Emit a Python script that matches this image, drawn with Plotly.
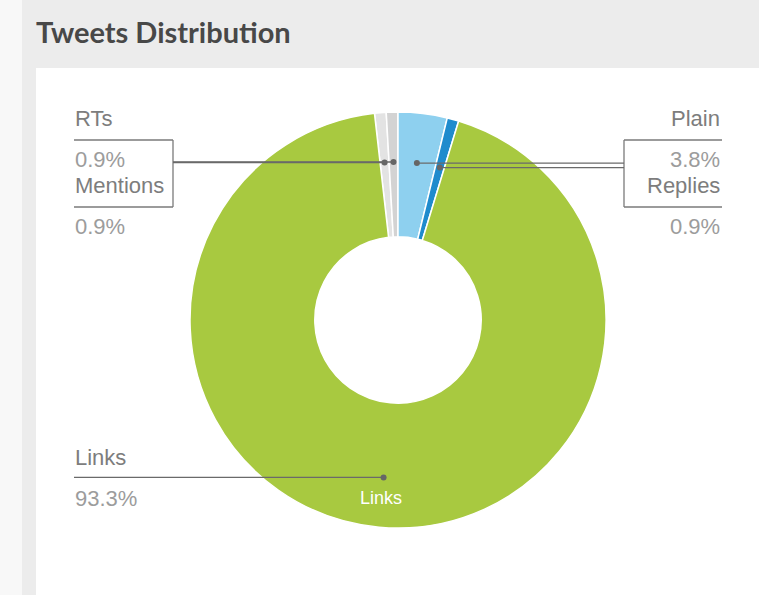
import math
import plotly.graph_objects as go

# ---- data ----
categories = ["RTs", "Mentions", "Plain", "Replies", "Links"]
values = [0.9, 0.9, 3.8, 0.9, 93.3]
pct_labels = ["0.9%", "0.9%", "3.8%", "0.9%", "93.3%"]
colors = ["#e3e3e3", "#d3d3d3", "#8ed0ef", "#1f8bcd", "#a8c940"]
title_text = "Tweets Distribution"

# ---- layout constants (pixels) ----
W, H = 759, 595
CX, CY, R = 398, 320, 208
HOLE = 0.40
DOT_R = 0.76 * R


def px(x):
    return x / W


def py(y):
    return 1 - y / H


total = sum(values)
rotation = -(values[0] + values[1]) / total * 360

fig = go.Figure(
    go.Pie(
        labels=categories,
        values=values,
        sort=False,
        direction="clockwise",
        rotation=rotation,
        hole=HOLE,
        marker=dict(colors=colors, line=dict(color="white", width=1.5)),
        textinfo="none",
        hoverinfo="label+percent",
        showlegend=False,
        domain=dict(x=[px(CX - R), px(CX + R)], y=[py(CY + R), py(CY - R)]),
    )
)

# slice mid angles -> dot positions
dots = []
cum = 0
for v in values:
    a = math.radians(rotation + (cum + v / 2) / total * 360)
    dots.append((CX + DOT_R * math.sin(a), CY - DOT_R * math.cos(a)))
    cum += v

shapes = [
    dict(type="rect", xref="paper", yref="paper", x0=px(22), x1=1, y0=0, y1=1,
         fillcolor="#ececec", line=dict(width=0), layer="below"),
    dict(type="rect", xref="paper", yref="paper", x0=px(36), x1=1, y0=0, y1=py(68),
         fillcolor="#ffffff", line=dict(width=0), layer="below"),
]
annotations = [
    dict(text="<b>" + title_text + "</b>", x=px(34), y=py(31), xref="paper", yref="paper",
         xanchor="left", yanchor="middle", showarrow=False,
         font=dict(family="Lato", size=29, color="#484848")),
]

LINE_C = "#7a7a7a"
NAME_C = "#7d7d7d"
PCT_C = "#9c9c9c"
FONT = "Liberation Sans, Arial"
FS = 22


def hline(x0, x1, y, color=LINE_C):
    shapes.append(dict(type="line", xref="paper", yref="paper", x0=px(x0), x1=px(x1),
                       y0=py(y), y1=py(y), line=dict(color=color, width=1.3)))


def vline(x, y0, y1):
    shapes.append(dict(type="line", xref="paper", yref="paper", x0=px(x), x1=px(x),
                       y0=py(y0), y1=py(y1), line=dict(color=LINE_C, width=1.3)))


def dot(x, y):
    r = 3
    shapes.append(dict(type="circle", xref="paper", yref="paper", x0=px(x - r), x1=px(x + r),
                       y0=py(y + r), y1=py(y - r), fillcolor="#666666",
                       line=dict(color="#666666", width=0)))


def label(text, x, y, anchor, color):
    annotations.append(dict(text=text, x=px(x), y=py(y), xref="paper", yref="paper",
                            xanchor=anchor, yanchor="middle", showarrow=False,
                            font=dict(family=FONT, size=FS, color=color)))


# bracket groups: (indices, text x, anchor, bracket x, outer x)
groups = [
    ([0, 1], 73, "left", 173, 74),
    ([2, 3], 722, "right", 624, 722),
]
name_ys = [119, 185]
pct_ys = [160, 226]
top_line, bot_line = 140, 207
for idx, tx, anc, bx, ox in groups:
    hline(min(bx, ox), max(bx, ox), top_line)
    hline(min(bx, ox), max(bx, ox), bot_line)
    vline(bx, top_line, bot_line)
    for k, i in enumerate(idx):
        label(categories[i], tx, name_ys[k], anc, NAME_C)
        label(pct_labels[i], tx, pct_ys[k], anc, PCT_C)
        dx, dy = dots[i]
        hline(min(bx, dx), max(bx, dx), dy, "#6a6a6a")
        dot(dx, dy)

# bottom single label for Links
li = 4
dx, dy = dots[li]
hline(74, dx, dy, "#6a6a6a")
dot(dx, dy)
label(categories[li], 73, dy - 20, "left", NAME_C)
label(pct_labels[li], 73, dy + 21, "left", PCT_C)
annotations.append(dict(text=categories[li], x=px(dx - 3), y=py(dy + 21), xref="paper", yref="paper",
                        xanchor="center", yanchor="middle", showarrow=False,
                        font=dict(family=FONT, size=18, color="#ffffff")))

fig.update_layout(
    width=W, height=H,
    margin=dict(l=0, r=0, t=0, b=0),
    paper_bgcolor="#f8f8f8",
    plot_bgcolor="#ffffff",
    shapes=shapes,
    annotations=annotations,
    showlegend=False,
)

fig.write_html("out.html")
